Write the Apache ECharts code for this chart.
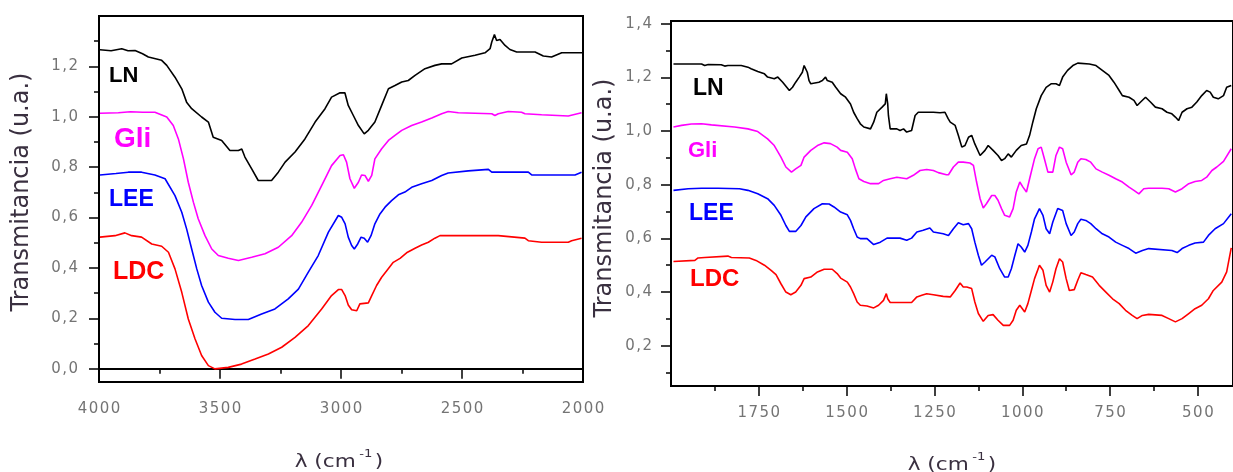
<!DOCTYPE html>
<html>
<head>
<meta charset="utf-8">
<script src="https://cdn.jsdelivr.net/npm/echarts@6/dist/echarts.min.js"></script>
<style>
  html, body { margin: 0; padding: 0; background: #fff; }
  #c { width: 1233px; height: 472px; }
</style>
</head>
<body>
<div id="c"></div>
<script>
// FTIR transmittance spectra of four samples: 4000-2000 cm-1 (left) and 2000-400 cm-1 (right)
const sampleNames = ['LN', 'Gli', 'LEE', 'LDC'];
const sampleColors = ['#000000', '#ff00ff', '#0000ff', '#ff0000'];

// Left panel, high wavenumber region: [wavenumber, transmittance]
const highLN = [[3996,1.266],[3950,1.262],[3906,1.270],[3880,1.262],[3851,1.263],[3820,1.250],[3796,1.237],[3741,1.224],[3720,1.204],[3686,1.157],[3658,1.111],[3638,1.058],[3617,1.032],[3576,0.999],[3548,0.979],[3528,0.919],[3493,0.906],[3459,0.866],[3424,0.866],[3410,0.872],[3397,0.840],[3369,0.793],[3342,0.747],[3287,0.747],[3259,0.780],[3231,0.820],[3190,0.860],[3149,0.912],[3107,0.979],[3066,1.032],[3039,1.078],[3004,1.095],[2984,1.095],[2970,1.045],[2949,1.005],[2928,0.965],[2904,0.932],[2887,0.946],[2860,0.979],[2832,1.045],[2804,1.111],[2777,1.124],[2749,1.138],[2722,1.144],[2694,1.164],[2653,1.191],[2612,1.204],[2584,1.210],[2543,1.210],[2501,1.233],[2446,1.244],[2405,1.254],[2384,1.270],[2377,1.297],[2366,1.326],[2357,1.303],[2343,1.307],[2322,1.283],[2302,1.267],[2274,1.257],[2198,1.257],[2164,1.241],[2130,1.237],[2088,1.254],[2000,1.254]];
const highGli = [[3996,1.014],[3920,1.016],[3870,1.020],[3820,1.018],[3769,1.018],[3720,0.999],[3693,0.965],[3672,0.912],[3651,0.833],[3631,0.740],[3610,0.661],[3590,0.595],[3562,0.528],[3534,0.475],[3507,0.449],[3466,0.438],[3424,0.429],[3369,0.442],[3314,0.456],[3259,0.482],[3204,0.528],[3163,0.581],[3121,0.648],[3080,0.727],[3039,0.806],[3004,0.846],[2990,0.849],[2977,0.820],[2963,0.754],[2945,0.716],[2928,0.740],[2915,0.769],[2901,0.767],[2887,0.744],[2873,0.767],[2860,0.833],[2832,0.873],[2804,0.906],[2777,0.926],[2749,0.946],[2708,0.965],[2667,0.979],[2625,0.995],[2584,1.012],[2557,1.021],[2515,1.016],[2377,1.012],[2364,1.005],[2350,1.012],[2309,1.021],[2254,1.018],[2240,1.012],[2171,1.008],[2061,1.003],[2006,1.016]];
const highLEE = [[3996,0.769],[3930,0.775],[3879,0.780],[3824,0.780],[3769,0.769],[3727,0.754],[3686,0.687],[3658,0.621],[3638,0.555],[3617,0.475],[3596,0.396],[3576,0.330],[3548,0.264],[3521,0.224],[3493,0.200],[3438,0.195],[3383,0.195],[3328,0.217],[3273,0.237],[3218,0.277],[3176,0.316],[3135,0.383],[3094,0.449],[3052,0.542],[3011,0.608],[2997,0.601],[2983,0.575],[2970,0.522],[2956,0.489],[2945,0.475],[2931,0.495],[2917,0.522],[2904,0.518],[2890,0.502],[2876,0.528],[2860,0.575],[2839,0.614],[2818,0.641],[2791,0.667],[2763,0.690],[2736,0.701],[2708,0.720],[2667,0.734],[2625,0.747],[2584,0.767],[2557,0.777],[2474,0.785],[2391,0.791],[2377,0.780],[2226,0.780],[2212,0.769],[2033,0.769],[2006,0.780]];
const highLDC = [[3996,0.522],[3934,0.528],[3893,0.539],[3865,0.528],[3824,0.522],[3782,0.495],[3741,0.486],[3713,0.462],[3686,0.396],[3658,0.303],[3631,0.197],[3603,0.118],[3576,0.052],[3548,0.012],[3521,-0.001],[3466,0.005],[3411,0.018],[3355,0.038],[3300,0.058],[3245,0.085],[3190,0.124],[3135,0.171],[3080,0.237],[3039,0.290],[3011,0.314],[2997,0.314],[2983,0.290],[2970,0.253],[2956,0.234],[2935,0.230],[2922,0.257],[2887,0.261],[2873,0.290],[2853,0.330],[2832,0.363],[2811,0.389],[2784,0.422],[2756,0.438],[2729,0.460],[2694,0.478],[2667,0.491],[2639,0.502],[2612,0.518],[2591,0.528],[2350,0.528],[2343,0.522],[2240,0.518],[2226,0.508],[2171,0.502],[2061,0.502],[2047,0.508],[2006,0.518]];

// Right panel, fingerprint region
const lowLN = [[1993,1.250],[1913,1.250],[1904,1.244],[1894,1.248],[1857,1.247],[1847,1.242],[1838,1.244],[1800,1.244],[1781,1.238],[1772,1.232],[1753,1.222],[1734,1.213],[1725,1.201],[1706,1.195],[1696,1.201],[1682,1.182],[1663,1.151],[1654,1.163],[1645,1.182],[1635,1.201],[1630,1.195],[1626,1.219],[1621,1.244],[1616,1.250],[1612,1.219],[1607,1.188],[1602,1.176],[1579,1.182],[1569,1.188],[1560,1.201],[1555,1.188],[1541,1.182],[1531,1.163],[1517,1.139],[1503,1.126],[1489,1.101],[1480,1.070],[1470,1.046],[1461,1.027],[1451,1.015],[1432,1.008],[1423,1.033],[1414,1.070],[1399,1.089],[1390,1.101],[1387,1.139],[1383,1.101],[1381,1.058],[1376,1.008],[1357,1.008],[1348,1.002],[1338,1.008],[1329,0.996],[1315,1.002],[1305,1.058],[1296,1.070],[1282,1.070],[1253,1.070],[1234,1.068],[1220,1.070],[1211,1.046],[1205,1.033],[1191,1.021],[1182,0.984],[1172,0.940],[1163,0.946],[1153,0.977],[1144,0.984],[1135,0.952],[1120,0.909],[1106,0.928],[1097,0.946],[1083,0.928],[1069,0.909],[1059,0.890],[1050,0.897],[1040,0.915],[1031,0.903],[1017,0.928],[1003,0.946],[988,0.952],[979,0.984],[970,1.033],[960,1.083],[946,1.132],[932,1.163],[918,1.176],[904,1.176],[894,1.170],[885,1.201],[871,1.226],[856,1.244],[842,1.253],[809,1.250],[790,1.244],[772,1.226],[753,1.207],[739,1.182],[724,1.151],[715,1.132],[696,1.126],[682,1.114],[673,1.095],[663,1.108],[649,1.126],[635,1.108],[621,1.089],[602,1.083],[588,1.070],[574,1.064],[564,1.052],[555,1.039],[545,1.070],[531,1.083],[517,1.089],[503,1.108],[489,1.132],[475,1.151],[465,1.145],[456,1.126],[442,1.120],[427,1.132],[418,1.163],[405,1.170]];
const lowGli = [[1993,1.015],[1970,1.021],[1942,1.026],[1913,1.027],[1885,1.023],[1819,1.015],[1781,1.008],[1753,0.998],[1725,0.971],[1706,0.946],[1687,0.903],[1673,0.866],[1657,0.847],[1645,0.859],[1630,0.872],[1621,0.903],[1602,0.928],[1583,0.946],[1564,0.956],[1546,0.953],[1527,0.940],[1517,0.928],[1498,0.921],[1484,0.897],[1475,0.859],[1465,0.822],[1451,0.812],[1432,0.804],[1409,0.804],[1395,0.816],[1376,0.822],[1357,0.828],[1343,0.825],[1329,0.822],[1310,0.835],[1291,0.853],[1272,0.857],[1253,0.853],[1239,0.845],[1216,0.837],[1210,0.837],[1196,0.866],[1182,0.884],[1168,0.884],[1149,0.881],[1139,0.872],[1130,0.810],[1120,0.748],[1111,0.713],[1102,0.729],[1087,0.760],[1078,0.760],[1069,0.742],[1059,0.711],[1050,0.686],[1036,0.680],[1026,0.711],[1017,0.773],[1007,0.810],[998,0.791],[988,0.773],[979,0.822],[965,0.897],[955,0.934],[946,0.940],[937,0.897],[927,0.847],[913,0.847],[904,0.909],[894,0.940],[885,0.934],[875,0.884],[861,0.837],[852,0.847],[842,0.884],[833,0.897],[819,0.894],[805,0.884],[790,0.859],[772,0.847],[753,0.835],[734,0.822],[715,0.810],[696,0.791],[682,0.779],[668,0.766],[654,0.785],[640,0.787],[602,0.787],[583,0.785],[564,0.773],[545,0.785],[526,0.804],[508,0.812],[489,0.816],[475,0.828],[460,0.853],[446,0.866],[427,0.887],[405,0.934]];
const lowLEE = [[1993,0.779],[1951,0.785],[1913,0.787],[1866,0.787],[1805,0.785],[1781,0.779],[1753,0.766],[1725,0.748],[1706,0.723],[1687,0.686],[1673,0.648],[1663,0.626],[1645,0.626],[1630,0.648],[1616,0.680],[1593,0.711],[1569,0.729],[1550,0.728],[1536,0.717],[1517,0.698],[1498,0.688],[1489,0.667],[1480,0.636],[1470,0.605],[1461,0.599],[1442,0.599],[1423,0.577],[1404,0.586],[1385,0.601],[1348,0.601],[1329,0.593],[1315,0.601],[1300,0.624],[1282,0.630],[1263,0.639],[1253,0.624],[1225,0.617],[1210,0.611],[1196,0.636],[1182,0.658],[1168,0.651],[1153,0.655],[1144,0.636],[1135,0.586],[1125,0.537],[1116,0.500],[1106,0.512],[1087,0.537],[1078,0.531],[1064,0.487],[1050,0.456],[1040,0.456],[1031,0.487],[1021,0.537],[1012,0.580],[1003,0.568],[993,0.549],[984,0.574],[974,0.624],[965,0.673],[951,0.711],[941,0.686],[932,0.636],[922,0.617],[913,0.661],[899,0.711],[885,0.704],[875,0.655],[861,0.611],[852,0.624],[842,0.655],[833,0.671],[819,0.667],[805,0.655],[790,0.636],[772,0.617],[753,0.605],[734,0.586],[715,0.574],[696,0.562],[677,0.545],[658,0.555],[640,0.562],[574,0.555],[559,0.547],[545,0.562],[526,0.574],[508,0.583],[484,0.586],[470,0.611],[451,0.636],[427,0.655],[405,0.692]];
const lowLDC = [[1993,0.514],[1932,0.518],[1923,0.527],[1904,0.529],[1838,0.534],[1833,0.539],[1828,0.529],[1777,0.527],[1758,0.518],[1734,0.500],[1715,0.481],[1701,0.465],[1687,0.431],[1673,0.400],[1659,0.390],[1645,0.400],[1630,0.425],[1621,0.450],[1602,0.456],[1583,0.475],[1564,0.485],[1541,0.485],[1527,0.469],[1517,0.452],[1498,0.437],[1489,0.419],[1480,0.394],[1470,0.363],[1461,0.351],[1442,0.348],[1423,0.341],[1409,0.351],[1395,0.369],[1387,0.394],[1383,0.375],[1376,0.361],[1348,0.361],[1315,0.361],[1300,0.382],[1286,0.388],[1272,0.394],[1253,0.390],[1225,0.384],[1205,0.382],[1191,0.406],[1177,0.434],[1168,0.419],[1158,0.419],[1144,0.413],[1135,0.363],[1125,0.320],[1111,0.291],[1097,0.313],[1083,0.316],[1069,0.295],[1054,0.276],[1036,0.276],[1026,0.295],[1017,0.332],[1007,0.351],[993,0.326],[984,0.357],[974,0.406],[965,0.450],[951,0.500],[941,0.481],[932,0.425],[922,0.400],[913,0.438],[904,0.487],[894,0.524],[885,0.512],[875,0.450],[866,0.406],[852,0.409],[842,0.444],[833,0.472],[819,0.465],[800,0.456],[781,0.425],[762,0.400],[743,0.375],[724,0.357],[706,0.332],[687,0.313],[673,0.301],[658,0.313],[640,0.317],[602,0.313],[583,0.301],[564,0.289],[545,0.301],[526,0.320],[508,0.338],[489,0.351],[470,0.375],[456,0.406],[432,0.437],[418,0.475],[405,0.565]];

// Tick values
const leftYLabels = [0, 0.2, 0.4, 0.6, 0.8, 1.0, 1.2];
const leftYMinor = [0.1, 0.3, 0.5, 0.7, 0.9, 1.1, 1.3];
const rightYLabels = [0.2, 0.4, 0.6, 0.8, 1.0, 1.2, 1.4];
const rightYMinor = [0.1, 0.3, 0.5, 0.7, 0.9, 1.1, 1.3];
const rightXLabels = [1750, 1500, 1250, 1000, 750, 500];
const rightXMinor = [1875, 1625, 1375, 1125, 875, 625];

const highSeries = [highLN, highGli, highLEE, highLDC];
const lowSeries = [lowLN, lowGli, lowLEE, lowLDC];

const TICK_FONT = 'DejaVu Sans';
const TICK_COLOR = '#747474';
const spaced = s => s.split('').join('\u200A');
const decimalComma = v => spaced((Math.round(v * 10) / 10).toFixed(1).replace('.', ','));

const blackLine = { color: '#000', width: 1.5 };
const hiddenLine = { show: false };

function labelStyle(extra) {
  return Object.assign({ color: TICK_COLOR, fontFamily: TICK_FONT, fontSize: 15 }, extra);
}

const chart = echarts.init(document.getElementById('c'), null, { renderer: 'canvas' });

const series = [];
highSeries.forEach((d, i) => series.push({
  name: sampleNames[i], type: 'line', xAxisIndex: 0, yAxisIndex: 0, data: d,
  showSymbol: false, symbol: 'none', lineStyle: { color: sampleColors[i], width: 1.6 }, z: 3
}));
lowSeries.forEach((d, i) => series.push({
  name: sampleNames[i], type: 'line', xAxisIndex: 1, yAxisIndex: 1, data: d,
  showSymbol: false, symbol: 'none', lineStyle: { color: sampleColors[i], width: 1.6 }, z: 3
}));

// Sample tags drawn inside each panel
const tags = [
  { t: 'LN', x: 109, y: 76, s: 22 }, { t: 'Gli', x: 114, y: 139, s: 28 },
  { t: 'LEE', x: 109, y: 200, s: 23 }, { t: 'LDC', x: 113, y: 272, s: 25 },
  { t: 'LN', x: 693, y: 89, s: 23 }, { t: 'Gli', x: 688, y: 151, s: 22 },
  { t: 'LEE', x: 689, y: 214, s: 23 }, { t: 'LDC', x: 690, y: 279, s: 24 }
];
const tagGraphics = tags.map(g => ({
  type: 'text', x: g.x, y: g.y, z: 10,
  style: {
    text: g.t, fill: sampleColors[sampleNames.indexOf(g.t)],
    font: 'bold ' + g.s + 'px "Liberation Sans", Arial, sans-serif',
    align: 'left', verticalAlign: 'middle'
  }
}));

const titleColor = '#3a3040';
const yTitle = (x, y) => ({
  type: 'text', x: x, y: y, rotation: Math.PI / 2, z: 10,
  style: { text: 'Transmitancia (u.a.)', fill: titleColor, font: '24px "DejaVu Sans", sans-serif', align: 'center', verticalAlign: 'middle' }
});
const xTitle = (x, y) => ({
  type: 'text', x: x, y: y, z: 10, scaleX: 1.2,
  style: {
    text: '{a|λ (cm}{s|-1}{a|)}', align: 'center', verticalAlign: 'middle',
    rich: {
      a: { fill: titleColor, fontFamily: 'DejaVu Sans', fontSize: 18, lineHeight: 22, verticalAlign: 'bottom' },
      s: { fill: titleColor, fontFamily: 'DejaVu Sans', fontSize: 11, lineHeight: 22, verticalAlign: 'top', padding: [0, 2, 0, 3] }
    }
  }
});

chart.setOption({
  animation: false,
  backgroundColor: '#ffffff',
  grid: [
    { left: 99, top: 16, width: 484, height: 366, show: true, borderColor: '#000', borderWidth: 2, containLabel: false },
    { left: 671, top: 21, width: 566, height: 365, show: true, borderColor: '#000', borderWidth: 2, containLabel: false }
  ],
  xAxis: [
    {
      gridIndex: 0, type: 'value', min: 2000, max: 4000, interval: 500, inverse: true, position: 'bottom',
      axisLine: { show: true, lineStyle: { color: '#000', width: 2 } },
      axisTick: { show: true, length: 10, lineStyle: blackLine },
      minorTick: { show: true, splitNumber: 2, length: 5, lineStyle: blackLine },
      axisLabel: labelStyle({ margin: 20, showMinLabel: true, showMaxLabel: true, formatter: v => spaced(String(v)) }),
      splitLine: { show: false }, minorSplitLine: { show: false }
    },
    {
      gridIndex: 1, type: 'value', min: 400, max: 2000, inverse: true, position: 'bottom',
      axisLine: { show: true, lineStyle: { color: '#000', width: 2 } },
      axisTick: { show: true, length: 10, lineStyle: blackLine, customValues: rightXLabels },
      axisLabel: labelStyle({ margin: 20, customValues: rightXLabels, formatter: v => spaced(String(v)) }),
      splitLine: { show: false }
    },
    {
      gridIndex: 1, type: 'value', min: 400, max: 2000, inverse: true, position: 'bottom',
      axisLine: hiddenLine,
      axisTick: { show: true, length: 5, lineStyle: blackLine, customValues: rightXMinor },
      axisLabel: { show: false }, splitLine: { show: false }
    }
  ],
  yAxis: [
    {
      gridIndex: 0, type: 'value', min: -0.053, max: 1.4, position: 'left',
      axisLine: { show: true, lineStyle: { color: '#000', width: 2 } },
      axisTick: { show: true, length: 10, lineStyle: blackLine, customValues: leftYLabels },
      axisLabel: labelStyle({ margin: 21, customValues: leftYLabels, formatter: decimalComma }),
      splitLine: { show: false }
    },
    {
      gridIndex: 1, type: 'value', min: 0.05, max: 1.41, position: 'left',
      axisLine: { show: true, lineStyle: { color: '#000', width: 2 } },
      axisTick: { show: true, length: 10, lineStyle: blackLine, customValues: rightYLabels },
      axisLabel: labelStyle({ margin: 19, customValues: rightYLabels, formatter: decimalComma }),
      splitLine: { show: false }
    },
    {
      gridIndex: 0, type: 'value', min: -0.053, max: 1.4, position: 'left',
      axisLine: hiddenLine,
      axisTick: { show: true, length: 5, lineStyle: blackLine, customValues: leftYMinor },
      axisLabel: { show: false }, splitLine: { show: false }
    },
    {
      gridIndex: 1, type: 'value', min: 0.05, max: 1.41, position: 'left',
      axisLine: hiddenLine,
      axisTick: { show: true, length: 5, lineStyle: blackLine, customValues: rightYMinor },
      axisLabel: { show: false }, splitLine: { show: false }
    }
  ],
  series: series,
  graphic: tagGraphics.concat([
    yTitle(22, 192), yTitle(605, 198),
    xTitle(339, 460), xTitle(952, 463)
  ])
});
</script>
</body>
</html>
